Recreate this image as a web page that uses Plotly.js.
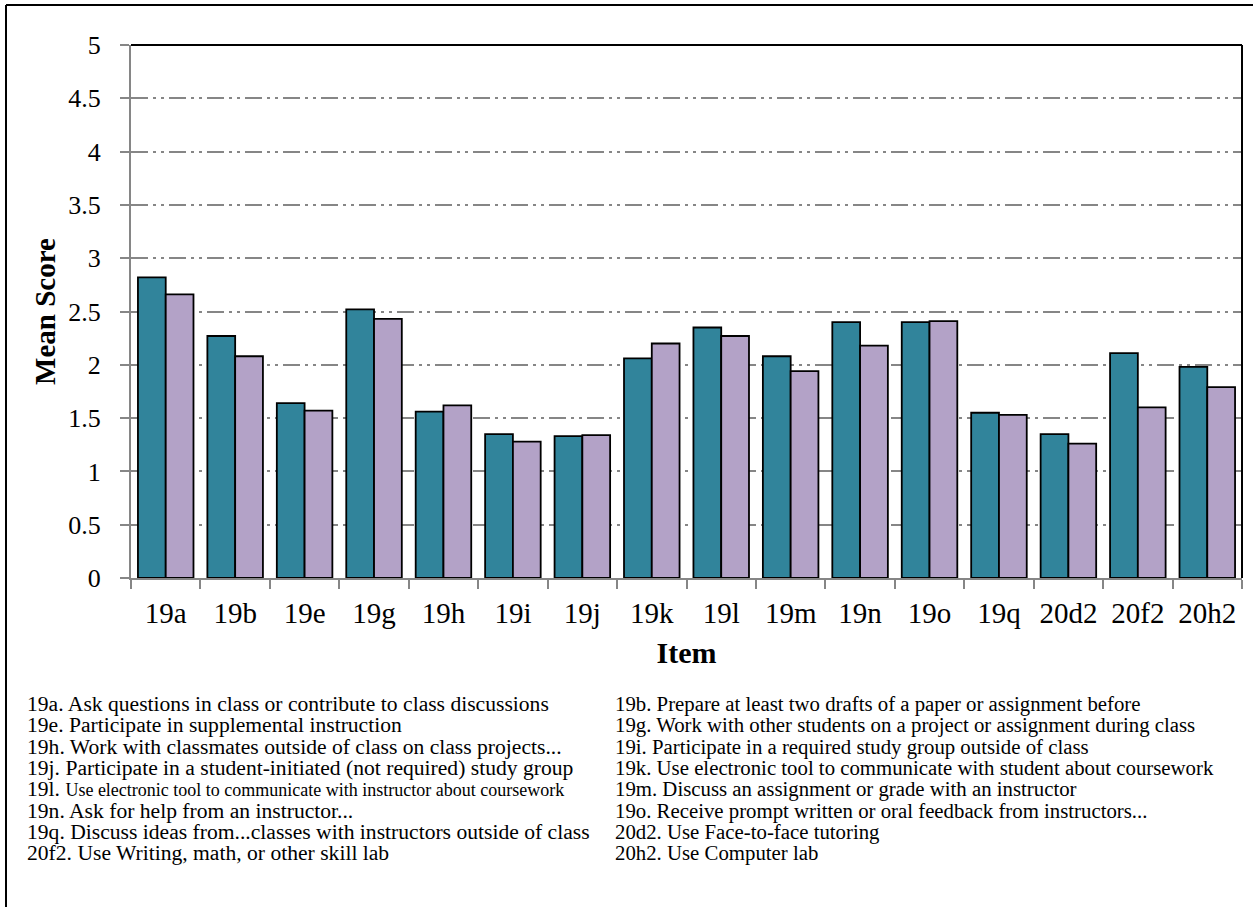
<!DOCTYPE html>
<html>
<head>
<meta charset="utf-8">
<script src="https://cdn.plot.ly/plotly-3.0.1.min.js"></script>
<style>
  html, body { margin: 0; padding: 0; background: #fff; }
  #chart { width: 1253px; height: 907px; }
</style>
</head>
<body>
<div id="chart"></div>
<script>
// ---- Data ----
const items = ["19a", "19b", "19e", "19g", "19h", "19i", "19j", "19k", "19l", "19m", "19n", "19o", "19q", "20d2", "20f2", "20h2"];
const series1Values = [2.82, 2.27, 1.64, 2.52, 1.56, 1.35, 1.33, 2.06, 2.35, 2.08, 2.40, 2.40, 1.55, 1.35, 2.11, 1.98];
const series2Values = [2.66, 2.08, 1.57, 2.43, 1.62, 1.28, 1.34, 2.20, 2.27, 1.94, 2.18, 2.41, 1.53, 1.26, 1.60, 1.79];
const yTickValues = [0, 0.5, 1, 1.5, 2, 2.5, 3, 3.5, 4, 4.5, 5];
const yTickLabels = ["0", "0.5", "1", "1.5", "2", "2.5", "3", "3.5", "4", "4.5", "5"];
const notesLeft = [
  "19a. Ask questions in class or contribute to class discussions",
  "19e. Participate in supplemental instruction",
  "19h. Work with classmates outside of class on class projects...",
  "19j. Participate in a student-initiated (not required) study group",
  "19l. <span style='font-size:18px'>Use electronic tool to communicate with instructor about coursework</span>",
  "19n. Ask for help from an instructor...",
  "19q. Discuss ideas from...classes with instructors outside of class",
  "20f2. Use Writing, math, or other skill lab"
];
const notesRight = [
  "19b. Prepare at least two drafts of a paper or assignment before",
  "19g. Work with other students on a project or assignment during class",
  "19i. Participate in a required study group outside of class",
  "19k. Use electronic tool to communicate with student about coursework",
  "19m. Discuss an assignment or grade with an instructor",
  "19o. Receive prompt written or oral feedback from instructors...",
  "20d2. Use Face-to-face tutoring",
  "20h2. Use Computer lab"
];

// ---- Layout geometry (pixels) ----
const W = 1253, H = 907;
const L = 131, R = 1242, T = 45, B = 578;
const pw = R - L, ph = B - T;
const px = x => (x - L) / pw;
const py = y => (B - y) / ph;

const FONT = "Liberation Serif, Times New Roman, serif";
const GRAY = "#868686";

const traces = [
  {
    type: "bar", name: "Series 1", x: items, y: series1Values,
    marker: { color: "#31849B", line: { color: "#000000", width: 1.8 } },
    hoverinfo: "x+y"
  },
  {
    type: "bar", name: "Series 2", x: items, y: series2Values,
    marker: { color: "#B3A2C7", line: { color: "#000000", width: 1.8 } },
    hoverinfo: "x+y"
  }
];

const annotations = [];
const rowY0 = 704, rowStep = 21.3;
notesLeft.forEach((t, i) => {
  annotations.push({
    xref: "paper", yref: "paper", x: px(25), y: py(rowY0 + i * rowStep),
    xanchor: "left", yanchor: "middle", showarrow: false, text: t,
    font: { family: FONT, size: 21.6, color: "#000" }
  });
});
notesRight.forEach((t, i) => {
  annotations.push({
    xref: "paper", yref: "paper", x: px(613), y: py(rowY0 + i * rowStep),
    xanchor: "left", yanchor: "middle", showarrow: false, text: t,
    font: { family: FONT, size: 20.8, color: "#000" }
  });
});

const shapes = [
  { type: "line", xref: "paper", yref: "paper", x0: 0, x1: 1, y0: 1, y1: 1, line: { color: "#000", width: 2 } },
  { type: "line", xref: "paper", yref: "paper", x0: 1, x1: 1, y0: 0, y1: 1, line: { color: "#000", width: 2 } },
  { type: "line", xref: "paper", yref: "paper", x0: px(6), x1: px(1253), y0: py(5), y1: py(5), line: { color: "#000", width: 2 } },
  { type: "line", xref: "paper", yref: "paper", x0: px(6), x1: px(6), y0: py(5), y1: py(907), line: { color: "#000", width: 2 } }
];

const layout = {
  width: W, height: H,
  margin: { l: L, r: W - R, t: T, b: H - B, pad: 0 },
  paper_bgcolor: "#ffffff", plot_bgcolor: "#ffffff",
  showlegend: false,
  barmode: "group", bargap: 0.2, bargroupgap: 0,
  font: { family: FONT, color: "#000" },
  xaxis: {
    type: "category", tickson: "boundaries",
    ticks: "outside", ticklen: 9, tickwidth: 2, tickcolor: GRAY,
    showline: true, linecolor: GRAY, linewidth: 2,
    showgrid: false, zeroline: false,
    tickfont: { family: FONT, size: 29, color: "#000" },
    ticklabelstandoff: 8,
    title: { text: "<b>Item</b>", font: { family: FONT, size: 30, color: "#000" }, standoff: 14 },
    automargin: false, fixedrange: true
  },
  yaxis: {
    range: [0, 5], tickvals: yTickValues, ticktext: yTickLabels,
    ticks: "outside", ticklen: 9, tickwidth: 2, tickcolor: GRAY,
    showline: true, linecolor: GRAY, linewidth: 2,
    showgrid: true, gridcolor: GRAY, gridwidth: 2,
    griddash: "17px,5px,3px,5px,3px,5px",
    zeroline: false,
    tickfont: { family: FONT, size: 26, color: "#000" },
    ticklabelstandoff: 14,
    title: { text: "<b>Mean Score</b>", font: { family: FONT, size: 29, color: "#000" }, standoff: 4 },
    automargin: false, fixedrange: true
  },
  annotations: annotations,
  shapes: shapes
};

Plotly.newPlot("chart", traces, layout, { displayModeBar: false, staticPlot: true });
</script>
</body>
</html>
